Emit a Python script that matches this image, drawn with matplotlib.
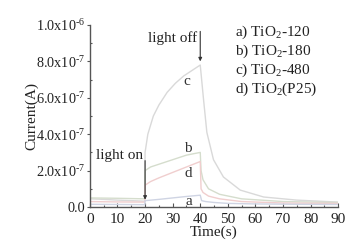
import matplotlib
matplotlib.use('Agg')
import matplotlib.pyplot as plt
from matplotlib.ticker import MultipleLocator, FixedLocator

plt.rcParams['font.family'] = 'Liberation Serif'
plt.rcParams['mathtext.fontset'] = 'custom'
plt.rcParams['mathtext.rm'] = 'Liberation Serif'
plt.rcParams['mathtext.it'] = 'Liberation Serif:italic'

# photocurrent data (values in units of 1e-7 A)
t_c = [0, 5, 10, 15, 19.9, 20, 21, 23, 25, 28, 31, 34, 37, 40,
       41.2, 42.4, 44.8, 48.4, 54.5, 63, 75, 90]
i_c = [0.45, 0.42, 0.38, 0.35, 0.32, 3.0, 4.0, 5.0, 5.6, 6.3, 6.8, 7.2, 7.5, 7.8,
       5.9, 4.1, 2.6, 1.65, 0.93, 0.55, 0.38, 0.27]

t_b = [0, 10, 19.9, 20, 22, 25, 30, 35, 40, 40.3, 41, 43, 47, 55, 70, 90]
i_b = [0.5, 0.48, 0.45, 2.0, 2.2, 2.35, 2.6, 2.85, 3.0, 2.0, 1.5, 1.0, 0.7, 0.45, 0.3, 0.25]

t_d = [0, 10, 19.9, 20, 22, 25, 30, 35, 40, 40.3, 41, 43, 47, 55, 70, 90]
i_d = [0.3, 0.28, 0.27, 1.2, 1.4, 1.6, 1.9, 2.2, 2.5, 1.0, 0.8, 0.6, 0.45, 0.3, 0.22, 0.2]

t_a = [0, 10, 19.9, 20, 25, 30, 35, 40, 40.5, 42, 45, 50, 60, 75, 90]
i_a = [0.15, 0.14, 0.13, 0.35, 0.42, 0.5, 0.58, 0.65, 0.35, 0.3, 0.25, 0.2, 0.17, 0.15, 0.14]

legend_lines = [r'a) TiO$_2$-120', r'b) TiO$_2$-180', r'c) TiO$_2$-480', r'd) TiO$_2$(P25)']
y_ticks = [0, 2e-7, 4e-7, 6e-7, 8e-7, 1e-6]
y_labels = ['0.0', r'2.0x10$^{\text{-}7}$', r'4.0x10$^{\text{-}7}$', r'6.0x10$^{\text{-}7}$',
            r'8.0x10$^{\text{-}7}$', r'1.0x10$^{\text{-}6}$']

fs = 11
fig = plt.figure(figsize=(3.64, 2.45), dpi=100)
ax = fig.add_axes([0.247, 0.155, 0.682, 0.743])

s = 1e-7
ax.plot(t_c, [v * s for v in i_c], color='#d9d9d9', lw=1)
ax.plot(t_b, [v * s for v in i_b], color='#d5ddcd', lw=1)
ax.plot(t_d, [v * s for v in i_d], color='#f0cece', lw=1)
ax.plot(t_a, [v * s for v in i_a], color='#cfd4e3', lw=1)

ax.set_xlim(0, 90)
ax.set_ylim(0, 1e-6)
ax.xaxis.set_major_locator(MultipleLocator(10))
ax.xaxis.set_minor_locator(MultipleLocator(5))
ax.yaxis.set_major_locator(FixedLocator(y_ticks))
ax.yaxis.set_minor_locator(MultipleLocator(1e-7))
ax.set_yticklabels(y_labels)
ax.tick_params(which='both', direction='in', labelsize=fs, width=0.8, color='#555555',
               labelcolor='#222222', pad=2)
ax.tick_params(axis='x', which='major', pad=4)
ax.tick_params(axis='y', labelsize=10.3)
ax.tick_params(which='major', length=3)
ax.tick_params(which='minor', length=1.5)
ax.tick_params(axis='y', which='major', direction='out', length=2.5, pad=1)
for side in ['top', 'right']:
    ax.spines[side].set_visible(False)
for side in ['left', 'bottom']:
    ax.spines[side].set_color('#555555')
    ax.spines[side].set_linewidth(1.0)

ax.set_xlabel('Time(s)', fontsize=fs, labelpad=0, color='#222222')
ax.set_ylabel('Current(A)', fontsize=fs, labelpad=-2, color='#222222')

# light on / off arrows
ax.annotate('', xy=(20, 0.25e-7), xytext=(20, 2.7e-7),
            arrowprops=dict(arrowstyle='-|>', color='#333333', lw=0.8, mutation_scale=5))
ax.text(19.3, 2.85e-7, 'light on', fontsize=fs, ha='right', va='center', color='#222222')
ax.annotate('', xy=(40, 7.85e-7), xytext=(40, 9.8e-7),
            arrowprops=dict(arrowstyle='-|>', color='#333333', lw=0.8, mutation_scale=5))
ax.text(38.8, 9.3e-7, 'light off', fontsize=fs, ha='right', va='center', color='#222222')

# curve labels
ax.text(35, 6.9e-7, 'c', fontsize=fs, ha='center', va='center', color='#333333')
ax.text(35.5, 3.2e-7, 'b', fontsize=fs, ha='center', va='center', color='#333333')
ax.text(35.5, 1.85e-7, 'd', fontsize=fs, ha='center', va='center', color='#333333')
ax.text(35.8, 0.33e-7, 'a', fontsize=fs, ha='center', va='center', color='#333333')

for k, line in enumerate(legend_lines):
    ax.text(52.5, 9.6e-7 - k * 1.05e-7, line, fontsize=fs, ha='left', va='center', color='#222222')

fig.savefig('out.png', dpi=100)
